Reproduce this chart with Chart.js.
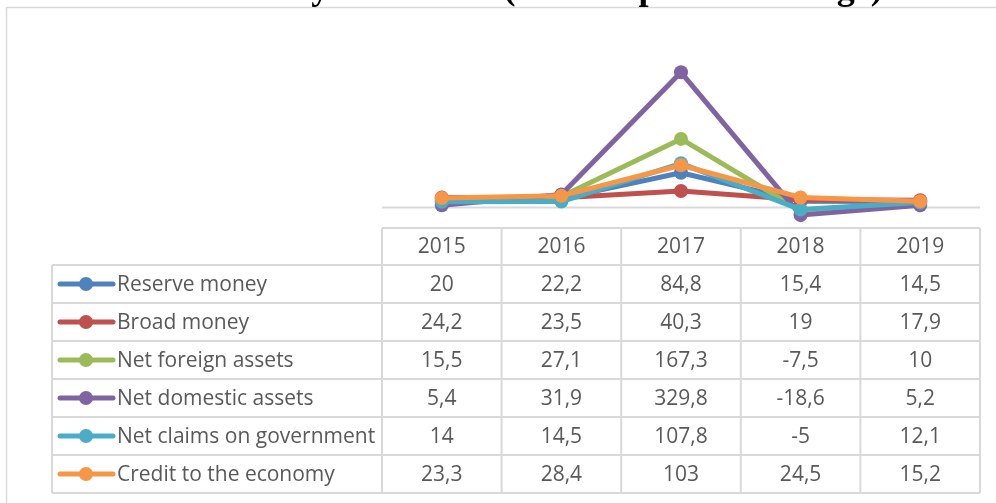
<!DOCTYPE html>
<html>
<head>
<meta charset="utf-8">
<script src="https://cdn.jsdelivr.net/npm/chart.js@4.4.1/dist/chart.umd.min.js"></script>
<style>
html, body { margin: 0; padding: 0; background: #fff; }
#wrap { width: 996px; height: 503px; position: relative; overflow: hidden; }
</style>
</head>
<body>
<div id="wrap"><canvas id="c" width="996" height="503"></canvas></div>
<script>
"use strict";
var years = ["2015", "2016", "2017", "2018", "2019"];
var seriesNames = ["Reserve money", "Broad money", "Net foreign assets", "Net domestic assets", "Net claims on government", "Credit to the economy"];
var reserveMoney = [20, 22.2, 84.8, 15.4, 14.5];
var broadMoney = [24.2, 23.5, 40.3, 19, 17.9];
var netForeignAssets = [15.5, 27.1, 167.3, -7.5, 10];
var netDomesticAssets = [5.4, 31.9, 329.8, -18.6, 5.2];
var netClaimsGov = [14, 14.5, 107.8, -5, 12.1];
var creditEconomy = [23.3, 28.4, 103, 24.5, 15.2];
var seriesColors = ["#4f81bd", "#c0504d", "#9bbb59", "#8064a2", "#4bacc6", "#f79646"];
var titleText = "Money and credit (Annual percent change)";

var allSeries = [reserveMoney, broadMoney, netForeignAssets, netDomesticAssets, netClaimsGov, creditEconomy];
var gridColor = "#d9d9d9", textColor = "#595959";
var tableFont = "21px 'Open Sans'";

function fmt(v) { return String(v).replace(".", ","); }

// outer frame + clipped title above it
var framePlugin = {
    id: "frame",
    beforeDraw: function(chart) {
        var ctx = chart.ctx;
        ctx.save();
        ctx.fillStyle = "#fff";
        ctx.fillRect(0, 0, chart.width, chart.height);
        ctx.strokeStyle = gridColor;
        ctx.lineWidth = 1.5;
        ctx.strokeRect(6.5, 7.5, chart.width + 20, chart.height + 20);
        ctx.fillStyle = "#000";
        ctx.font = "bold 36px 'Liberation Serif', 'Times New Roman', serif";
        ctx.textAlign = "center";
        ctx.textBaseline = "alphabetic";
        ctx.save();
        ctx.beginPath();
        ctx.rect(0, 0, chart.width, 7);
        ctx.clip();
        ctx.fillText(titleText, 553, -1.5);
        ctx.restore();
        ctx.restore();
    },
    beforeDatasetsDraw: function(chart) {
        var ctx = chart.ctx, a = chart.chartArea, y0 = chart.scales.y.getPixelForValue(0);
        ctx.save();
        ctx.strokeStyle = gridColor;
        ctx.lineWidth = 2;
        ctx.beginPath();
        ctx.moveTo(a.left, y0);
        ctx.lineTo(a.right, y0);
        ctx.stroke();
        ctx.restore();
    }
};

// Excel-style data table under the plot
var tablePlugin = {
    id: "dataTable",
    afterDraw: function(chart) {
        var ctx = chart.ctx, xs = chart.scales.x, a = chart.chartArea;
        var step = xs.getPixelForValue(1) - xs.getPixelForValue(0);
        var colL = xs.getPixelForValue(0) - step / 2;
        var colR = xs.getPixelForValue(years.length - 1) + step / 2;
        var top = a.bottom, headH = 37, rowH = 38, legL = 52;
        var rowsTop = top + headH, bottom = rowsTop + rowH * allSeries.length;
        var i, j, y;

        ctx.save();
        ctx.strokeStyle = gridColor;
        ctx.lineWidth = 2;
        ctx.beginPath();
        for (i = 0; i <= years.length; i++) {
            ctx.moveTo(colL + i * step, top);
            ctx.lineTo(colL + i * step, bottom);
        }
        ctx.moveTo(colL, top);
        ctx.lineTo(colR, top);
        for (j = 0; j <= allSeries.length; j++) {
            ctx.moveTo(legL, rowsTop + j * rowH);
            ctx.lineTo(colR, rowsTop + j * rowH);
        }
        ctx.moveTo(legL, rowsTop);
        ctx.lineTo(legL, bottom);
        ctx.stroke();

        ctx.font = tableFont;
        ctx.fillStyle = textColor;
        ctx.textBaseline = "middle";
        ctx.textAlign = "center";
        for (i = 0; i < years.length; i++) {
            ctx.fillText(years[i], xs.getPixelForValue(i), top + headH / 2 + 1);
        }
        for (j = 0; j < allSeries.length; j++) {
            y = rowsTop + j * rowH + rowH / 2;
            ctx.textAlign = "center";
            ctx.fillStyle = textColor;
            for (i = 0; i < years.length; i++) {
                ctx.fillText(fmt(allSeries[j][i]), xs.getPixelForValue(i), y + 1);
            }
            // legend key
            ctx.strokeStyle = seriesColors[j];
            ctx.lineWidth = 5;
            ctx.lineCap = "round";
            ctx.beginPath();
            ctx.moveTo(60, y);
            ctx.lineTo(113, y);
            ctx.stroke();
            ctx.fillStyle = seriesColors[j];
            ctx.beginPath();
            ctx.arc(86, y, 7, 0, Math.PI * 2);
            ctx.fill();
            ctx.fillStyle = textColor;
            ctx.textAlign = "left";
            ctx.fillText(seriesNames[j], 117, y + 1);
        }
        ctx.restore();
    }
};

var datasets = allSeries.map(function(vals, k) {
    return {
        label: seriesNames[k],
        data: vals,
        borderColor: seriesColors[k],
        backgroundColor: seriesColors[k],
        pointBackgroundColor: seriesColors[k],
        pointBorderColor: seriesColors[k],
        borderWidth: 5,
        pointRadius: 7,
        pointBorderWidth: 0,
        borderJoinStyle: "round",
        borderCapStyle: "round",
        tension: 0,
        order: allSeries.length - k
    };
});

new Chart(document.getElementById("c").getContext("2d"), {
    type: "line",
    data: { labels: years, datasets: datasets },
    options: {
        responsive: false,
        animation: false,
        devicePixelRatio: 1,
        layout: { padding: { left: 382, right: 16, top: 64, bottom: 275 } },
        plugins: { legend: { display: false }, tooltip: { enabled: false }, title: { display: false } },
        scales: {
            x: { display: false, offset: true },
            y: { display: false, min: -50, max: 350 }
        },
        clip: false
    },
    plugins: [framePlugin, tablePlugin]
});
</script>
</body>
</html>
